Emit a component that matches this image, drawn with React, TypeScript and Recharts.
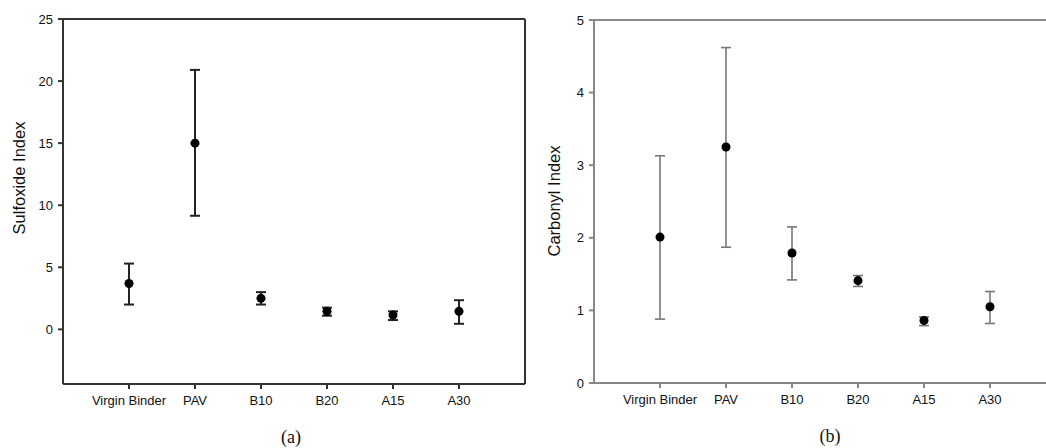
import React from 'react';
import { ScatterChart, Scatter, XAxis, YAxis, ErrorBar, ReferenceLine } from 'recharts';

const categories = ['Virgin Binder', 'PAV', 'B10', 'B20', 'A15', 'A30'];
const categoryPositions = [1, 2, 3, 4, 5, 6];

const sulfoxideMean = [3.7, 15.0, 2.5, 1.45, 1.15, 1.45];
const sulfoxideUpper = [5.3, 20.9, 3.0, 1.75, 1.45, 2.35];
const sulfoxideLower = [2.0, 9.15, 2.0, 1.1, 0.75, 0.45];
const sulfoxideTicks = [0, 5, 10, 15, 20, 25];

const carbonylMean = [2.01, 3.25, 1.79, 1.41, 0.86, 1.05];
const carbonylUpper = [3.13, 4.62, 2.15, 1.48, 0.91, 1.26];
const carbonylLower = [0.88, 1.87, 1.42, 1.33, 0.79, 0.82];
const carbonylTicks = [0, 1, 2, 3, 4, 5];

function buildRows(mean: number[], upper: number[], lower: number[]) {
  return mean.map((m, i) => ({
    x: categoryPositions[i],
    y: m,
    err: [m - lower[i], upper[i] - m],
  }));
}

const sulfoxideRows = buildRows(sulfoxideMean, sulfoxideUpper, sulfoxideLower);
const carbonylRows = buildRows(carbonylMean, carbonylUpper, carbonylLower);

const font = '"Liberation Sans", Arial, sans-serif';

interface PanelProps {
  rows: { x: number; y: number; err: number[] }[];
  yDomain: [number, number];
  yTicks: number[];
  axisColor: string;
  errColor: string;
  errWidth: number;
  marginTop: number;
  marginBottom: number;
}

function Panel({ rows, yDomain, yTicks, axisColor, errColor, errWidth, marginTop, marginBottom }: PanelProps) {
  const tickStyle = { fontFamily: font, fontSize: 13, fill: '#111' };
  return (
    <ScatterChart
      width={530}
      height={448}
      margin={{ top: marginTop, right: 5, bottom: marginBottom, left: 3 }}
    >
      <XAxis
        type="number"
        dataKey="x"
        domain={[0, 7]}
        ticks={categoryPositions}
        interval={0}
        tickFormatter={(v: number) => categories[v - 1] ?? ''}
        height={30}
        tickSize={5}
        tickMargin={7}
        stroke={axisColor}
        strokeWidth={2}
        tick={tickStyle}
        allowDataOverflow
      />
      <YAxis
        type="number"
        dataKey="y"
        domain={yDomain}
        ticks={yTicks}
        interval={0}
        width={60}
        tickSize={5}
        tickMargin={5}
        stroke={axisColor}
        strokeWidth={2}
        tick={tickStyle}
        allowDataOverflow
      />
      <ReferenceLine y={yDomain[1]} stroke={axisColor} strokeWidth={2} ifOverflow="visible" />
      <ReferenceLine x={7} stroke={axisColor} strokeWidth={2} ifOverflow="visible" />
      <Scatter data={rows} fill="#000" isAnimationActive={false}>
        <ErrorBar dataKey="err" direction="y" width={5} stroke={errColor} strokeWidth={errWidth} />
      </Scatter>
    </ScatterChart>
  );
}

const titleStyle: React.CSSProperties = {
  position: 'absolute',
  transform: 'translate(-50%, -50%) rotate(-90deg)',
  fontFamily: font,
  fontSize: 16.5,
  color: '#111',
  whiteSpace: 'nowrap',
};

const captionStyle: React.CSSProperties = {
  position: 'absolute',
  transform: 'translate(-50%, -50%)',
  fontFamily: '"Liberation Serif", "Times New Roman", serif',
  fontSize: 18,
  color: '#111',
  whiteSpace: 'nowrap',
};

export default function App() {
  return (
    <div
      style={{
        position: 'absolute',
        left: 0,
        top: 0,
        width: 1046,
        height: 448,
        overflow: 'hidden',
        background: '#fff',
      }}
    >
      <div style={{ position: 'absolute', left: 0, top: 0 }}>
        <Panel
          rows={sulfoxideRows}
          yDomain={[-4.4, 25]}
          yTicks={sulfoxideTicks}
          axisColor="#333"
          errColor="#222"
          errWidth={2}
          marginTop={19}
          marginBottom={34}
        />
      </div>
      <div style={{ position: 'absolute', left: 531, top: 0 }}>
        <Panel
          rows={carbonylRows}
          yDomain={[0, 5]}
          yTicks={carbonylTicks}
          axisColor="#888"
          errColor="#777"
          errWidth={1.6}
          marginTop={20}
          marginBottom={35}
        />
      </div>
      <div style={{ ...titleStyle, left: 19, top: 178 }}>Sulfoxide Index</div>
      <div style={{ ...titleStyle, left: 554, top: 201 }}>Carbonyl Index</div>
      <div style={{ ...captionStyle, left: 291, top: 437 }}>(a)</div>
      <div style={{ ...captionStyle, left: 830, top: 436 }}>(b)</div>
    </div>
  );
}
